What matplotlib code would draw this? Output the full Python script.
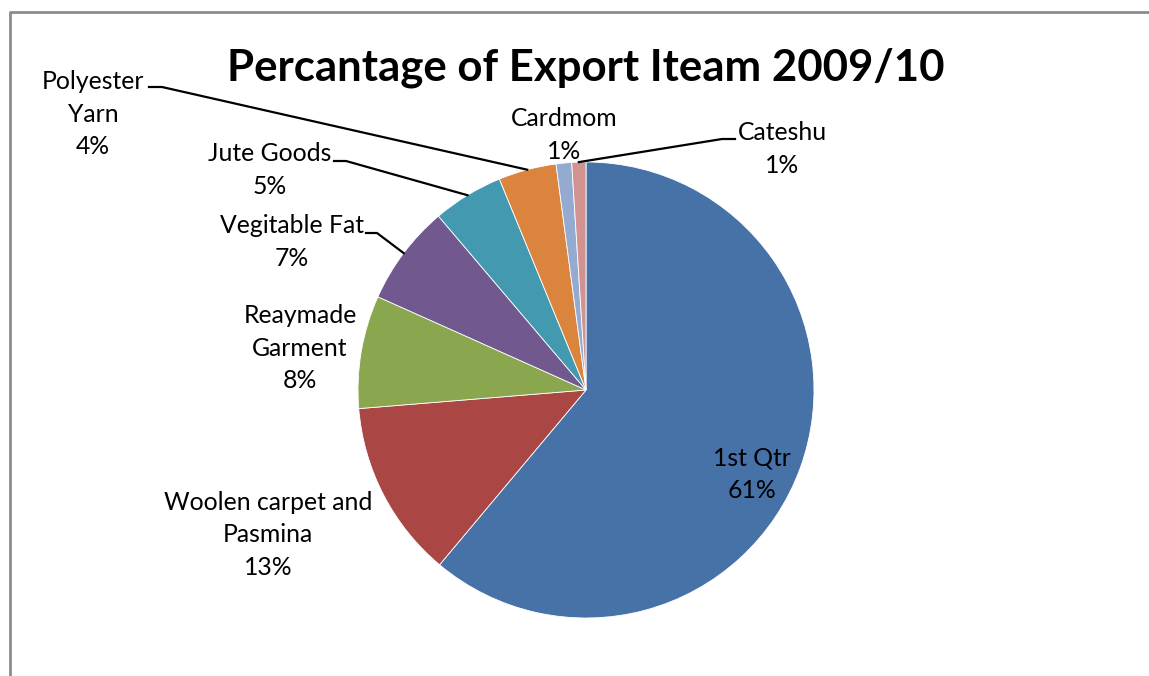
import numpy as np
import matplotlib
matplotlib.use("Agg")
import matplotlib.pyplot as plt

# export share per item, 2009/10 (percent)
ITEMS = ["1st Qtr", "Woolen carpet and\nPasmina", "Reaymade\nGarment",
         "Vegitable Fat", "Jute Goods", "Polyester\nYarn", "Cardmom", "Cateshu"]
SHARE = [61.1, 12.6, 8.0, 7.1, 5.0, 4.1, 1.1, 1.0]
COLORS = ["#4672A8", "#AA4644", "#8AA64F", "#71598F", "#4299B0",
          "#DB843D", "#94AAD0", "#D19392"]

TITLE = "Percantage of Export Iteam 2009/10"

W, H = 1149, 676
CENTER = (586, 390)
RADIUS = 228

# label anchor (pixel coords, y down) and optional leader elbow/end
LABEL_POS = [(752, 474), (268, 535), (300, 348), (292, 242),
             (270, 170), (93, 114), (564, 135), (782, 149)]
LEADERS = {3: ((377, 233), (366, 233)),
           4: ((346, 161), (334, 161)),
           5: ((162, 87), (149, 87)),
           7: ((722, 139), (735, 139))}

FONT = "Lato"

fig = plt.figure(figsize=(W / 100, H / 100), dpi=100)
ax = fig.add_axes([0, 0, 1, 1])
ax.set_xlim(0, W)
ax.set_ylim(H, 0)
ax.set_aspect("equal")
ax.axis("off")

# frame of the chart area (only left and top edges fall inside the image)
ax.plot([10, 10, W + 5], [H + 5, 12, 12], color="#8c8c8c", lw=2,
        solid_capstyle="butt", clip_on=False)

wedges, _ = ax.pie(SHARE, colors=COLORS, center=CENTER, radius=RADIUS,
                   startangle=-90, counterclock=True,
                   wedgeprops=dict(edgecolor="white", linewidth=0.6))
ax.set_xlim(0, W)
ax.set_ylim(H, 0)

for i, (name, val) in enumerate(zip(ITEMS, SHARE)):
    x, y = LABEL_POS[i]
    ax.text(x, y, f"{name}\n{val:.0f}%", ha="center", va="center",
            multialignment="center", fontsize=17.8, family=FONT,
            linespacing=1.5, color="black")
    if i in LEADERS:
        w = wedges[i]
        mid = np.deg2rad((w.theta1 + w.theta2) / 2)
        sx = CENTER[0] + RADIUS * np.cos(mid)
        sy = CENTER[1] + RADIUS * np.sin(mid)
        (ex, ey), (tx, ty) = LEADERS[i]
        ax.plot([sx, ex, tx], [sy, ey, ty], color="black", lw=1.6,
                solid_joinstyle="miter")

ax.text(586, 68, TITLE, ha="center", va="center", fontsize=31.5,
        fontweight="bold", family=FONT)

fig.savefig("out.png", dpi=100)
